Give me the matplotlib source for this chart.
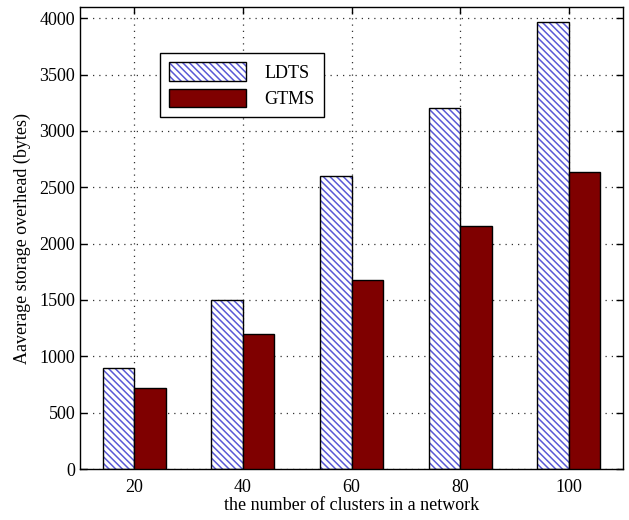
import matplotlib.pyplot as plt
import numpy as np

plt.rcParams['font.family'] = ['Liberation Serif', 'DejaVu Serif']

# data
clusters = ['20', '40', '60', '80', '100']
ldts = [900, 1500, 2600, 3200, 3970]
gtms = [720, 1200, 1680, 2160, 2640]

x = np.arange(1, len(clusters) + 1)
w = 0.29

fig = plt.figure(figsize=(6.29, 5.2), dpi=100)
ax = fig.add_axes([80 / 629, 1 - 469 / 520, 543 / 629, 462 / 520])

# hatched LDTS bars: blue hatch, black outline drawn separately
plt.rcParams['hatch.linewidth'] = 1.1
b1 = ax.bar(x - w / 2, ldts, w, color='white', edgecolor='#5a5ad6',
            hatch='\\\\\\\\\\', linewidth=0, zorder=2)
b1o = ax.bar(x - w / 2, ldts, w, fill=False, edgecolor='black',
             linewidth=1.0, zorder=3)
b2 = ax.bar(x + w / 2, gtms, w, color='#7f0000', edgecolor='black',
            linewidth=1.0, zorder=3)

ax.set_xlim(0.5, 5.5)
ax.set_ylim(0, 4100)
ax.set_xticks(x)
ax.set_xticklabels(clusters)
ax.set_yticks(np.arange(0, 4001, 500))
ax.tick_params(direction='in', top=True, right=True, labelsize=13,
               length=5, width=1)
ax.tick_params(axis='x', pad=7)
ax.grid(True, linestyle=(0, (1, 4)), color='#333333', linewidth=0.9)
ax.set_axisbelow(True)
for s in ax.spines.values():
    s.set_linewidth(1.0)

ax.set_xlabel('the number of clusters in a network', fontsize=13, labelpad=1)
ax.set_ylabel('Aaverage storage overhead (bytes)', fontsize=13, labelpad=6)

leg = ax.legend([(b1, b1o), b2], ['LDTS', 'GTMS'],
                loc='upper left', bbox_to_anchor=(0.147, 0.9),
                borderaxespad=0, fancybox=False, edgecolor='black',
                framealpha=1, fontsize=13, handlelength=4.3,
                handleheight=1.2, labelspacing=0.4, handletextpad=1.0,
                borderpad=0.5)
leg.get_frame().set_linewidth(1.0)

fig.savefig('out.png', dpi=100)
